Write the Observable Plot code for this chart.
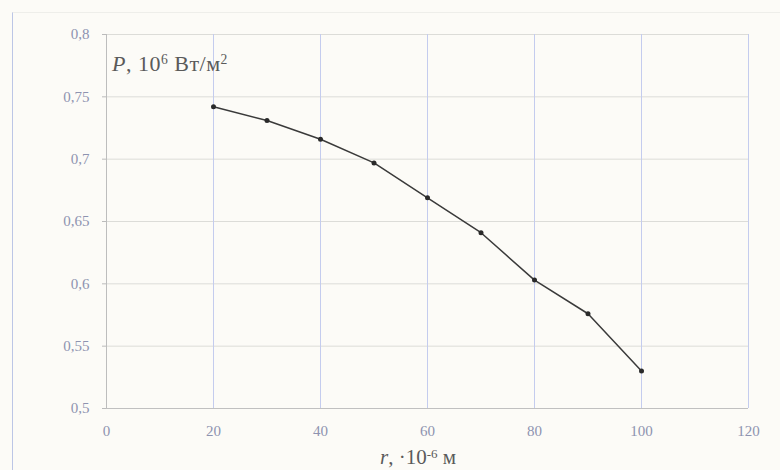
<!DOCTYPE html>
<html>
<head>
<meta charset="utf-8">
<script src="https://cdn.jsdelivr.net/npm/d3@7"></script>
<script src="https://cdn.jsdelivr.net/npm/@observablehq/plot@0.6"></script>
<style>
  html, body { margin: 0; padding: 0; background: #fcfbf7; }
  #wrap { position: relative; width: 780px; height: 470px; overflow: hidden; }
  #frame { position: absolute; left: 12px; top: 12px; right: 0; bottom: 0;
           border-left: 1px solid #bcc6e6; border-top: 1px solid #eeeeea; }
  .lbl { position: absolute; font-family: "Liberation Serif", "DejaVu Serif", serif; color: #5a5a5a; white-space: nowrap; line-height: 1; }
  .lbl sup { font-size: 0.62em; vertical-align: 0.5em; line-height: 0; }
</style>
</head>
<body>
<div id="wrap">
  <div id="frame"></div>
  <div id="chart"></div>
  <div class="lbl" style="left:112px; top:53px; font-size:22px; letter-spacing:0.5px;"><i>P</i>, 10<sup>6</sup> Вт/м<sup>2</sup></div>
  <div class="lbl" style="left:380px; top:447px; font-size:21px;"><i>r</i>, ·10<sup>-6</sup> м</div>
</div>
<script>
const rValues = [20, 30, 40, 50, 60, 70, 80, 90, 100];
const pValues = [0.742, 0.731, 0.716, 0.697, 0.669, 0.641, 0.603, 0.576, 0.530];
const xTicks = [0, 20, 40, 60, 80, 100, 120];
const yTicks = [0.5, 0.55, 0.6, 0.65, 0.7, 0.75, 0.8];

const data = rValues.map((r, i) => ({r, p: pValues[i]}));
const fmt = d => String(d).replace(".", ",");

const chart = Plot.plot({
  width: 780,
  height: 470,
  marginLeft: 106,
  marginRight: 32,
  marginTop: 34,
  marginBottom: 62,
  style: { background: "transparent", fontFamily: "'Liberation Serif', serif", fontSize: "15px", color: "#8e93b0" },
  x: { domain: [0, 120], label: null },
  y: { domain: [0.5, 0.8], label: null },
  marks: [
    Plot.ruleY(yTicks.slice(1), { stroke: "#dcdcd8", strokeWidth: 1 }),
    Plot.ruleX(xTicks.slice(1), { stroke: "#c4ccee", strokeWidth: 1 }),
    Plot.ruleX([0], { stroke: "#bdbdbd", strokeWidth: 1 }),
    Plot.ruleY([0.5], { stroke: "#c0c0c0", strokeWidth: 1 }),
    Plot.axisX({ ticks: xTicks, tickFormat: d => String(d), tickSize: 0, tickPadding: 17, fill: "#8e93b0", fontSize: 15 }),
    Plot.axisY({ ticks: yTicks, tickFormat: fmt, tickSize: 4, tickPadding: 13, fill: "#8e93b0", stroke: "#bbb", fontSize: 15 }),
    Plot.line(data, { x: "r", y: "p", stroke: "#3a3a3a", strokeWidth: 1.5 }),
    Plot.dot(data, { x: "r", y: "p", fill: "#2a2a2a", r: 2.5 })
  ]
});
document.getElementById("chart").appendChild(chart);
</script>
</body>
</html>
